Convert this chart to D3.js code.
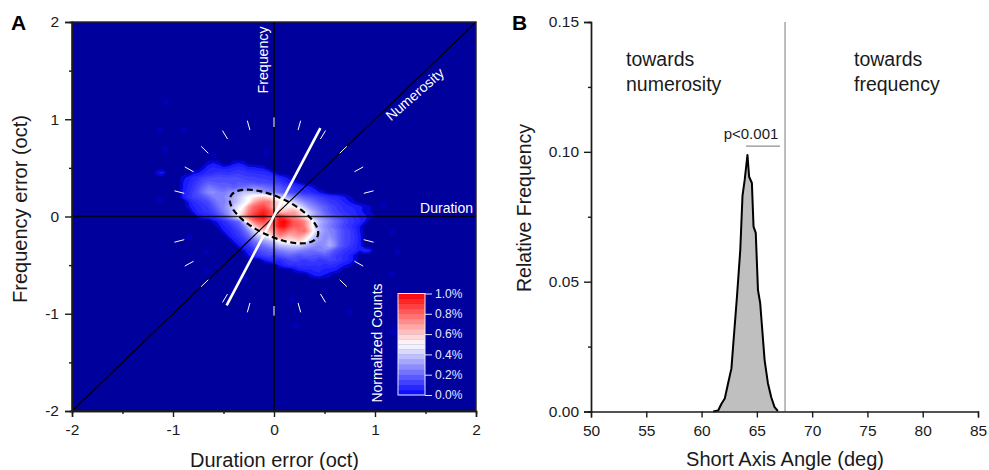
<!DOCTYPE html>
<html><head><meta charset="utf-8">
<script src="https://cdn.jsdelivr.net/npm/d3@7"></script>
<style>html,body{margin:0;padding:0;background:#fff}svg{display:block}text{font-family:"Liberation Sans",Arial,sans-serif}</style>
</head><body><svg id="c" width="989" height="470"></svg>
<script>
// Panel A: normalized counts (percent x 100). Columns start at duration error -1.2, rows at frequency error 0.55, step 0.05 oct
const heatX0=-1.2, heatY0=0.55, heatStep=0.05, heatCols=45;
const heatRows=[
[0,0,0,0,0,0,0,0,0,0,0,3,4,3,0,0,3,4,3],
[0,0,0,0,0,0,0,0,0,0,3,6,7,6,5,6,7,8,7,5,5,4,3],
[0,4,5,0,0,0,0,0,3,4,6,8,9,10,10,9,10,11,10,9,9,8,8,7,3],
[0,0,0,0,0,0,3,5,7,9,12,13,14,15,14,14,15,14,13,12,12,11,11,10,10,7,5,3],
[0,0,0,0,0,0,4,6,9,12,15,18,17,16,17,16,15,17,16,15,15,14,14,13,12,11,8,6,4,2],
[0,0,0,0,0,0,4,7,10,14,19,24,22,20,19,20,18,20,22,24,26,24,22,20,19,17,14,12,10,8,7,5,3],
[0,0,0,0,0,0,5,8,12,16,22,27,28,25,24,27,30,34,38,38,38,35,30,27,24,20,17,14,12,11,9,8,6,4,2],
[0,0,0,0,0,0,5,9,12,14,16,20,24,26,26,30,34,38,44,50,54,58,60,56,50,44,36,30,26,22,18,16,14,12,10,8,7,6,4,2],
[0,0,0,0,0,0,0,4,8,10,12,14,20,24,24,30,34,40,46,52,66,74,78,76,66,56,50,46,40,34,28,24,20,16,14,11,10,8,6,4,2],
[0,0,0,0,0,0,0,3,6,8,10,12,16,22,26,32,40,46,52,70,80,84,86,78,64,56,54,54,52,46,38,30,26,22,18,15,12,10,8,7,6,5,3,2],
[0,0,0,0,0,0,0,0,4,7,9,10,13,18,24,30,40,50,60,76,84,90,94,88,76,62,62,66,68,60,50,40,32,26,20,16,13,11,9,8,7,5,3,2],
[0,0,0,0,0,0,0,0,0,4,6,7,9,13,18,26,38,54,68,82,90,96,100,86,84,92,86,78,74,66,54,44,34,28,24,20,16,14,12,10,8,6,5,3,2],
[0,0,0,0,0,0,0,0,0,0,0,0,3,5,8,12,16,20,40,60,76,84,86,80,80,96,100,92,82,80,74,60,46,36,30,26,22,18,14,11,9,7,4],
[0,0,0,0,0,0,0,0,0,0,0,0,0,3,6,8,12,16,24,40,58,70,74,74,80,96,98,88,82,82,76,60,44,34,28,24,20,16,12,10,7,4],
[0,0,0,0,0,0,0,0,0,0,0,0,0,0,4,6,9,12,18,28,40,52,60,64,72,82,84,76,74,78,80,66,48,36,30,26,24,18,14,12,8,4],
[0,0,0,0,0,0,0,0,0,0,0,0,0,0,0,4,7,10,14,20,32,40,46,52,62,74,70,64,68,70,64,52,40,32,28,28,24,18,14,12,9,5],
[0,0,0,0,0,0,0,0,0,0,0,0,0,0,0,0,4,7,10,14,22,28,32,36,42,50,54,54,56,60,52,42,34,30,28,32,26,18,14,12,9,5],
[0,0,0,0,0,0,0,0,0,0,0,0,0,0,0,0,0,4,7,10,16,20,22,26,30,36,38,40,40,40,36,32,28,26,28,34,28,18,14,11,8,5],
[0,0,0,0,0,0,0,0,0,0,0,0,0,0,0,0,0,0,3,6,10,14,16,18,20,24,26,28,28,26,24,22,22,24,26,22,16,13,10,8,7,4,7,5],
[0,0,0,0,0,0,0,0,0,0,0,0,0,0,0,0,0,0,0,4,7,10,12,14,12,16,18,20,18,16,18,18,16,16,18,16,12,10,8,6,3],
[0,0,0,0,0,0,0,0,0,0,0,0,0,0,0,0,0,0,0,0,0,0,4,6,8,7,10,12,14,12,11,12,13,10,11,13,12,10,8,6,3],
[0,0,0,0,0,0,0,0,0,0,0,0,0,0,0,0,0,0,0,0,0,0,0,0,0,4,7,9,8,10,9,10,9,10,8,9,8,6,4,3],
[0,0,0,0,0,0,0,0,0,0,0,0,0,0,0,0,0,0,0,0,0,0,0,0,0,0,0,0,3,5,6,6,7,7,6,5,5,3],
[0,0,0,0,0,0,0,0,0,0,0,0,0,0,0,0,0,0,0,0,0,0,0,0,0,0,0,0,0,0,0,3,5,6,4,3],
[]
];
const straySpots=[[-1.07,1.18],[-1.13,0.89],[-0.89,0.89],[-1.08,0.69],[-0.08,0.65],[-0.6,0.63],[-1.13,0.165],[-0.84,-0.21],[-0.67,-0.36],[-0.67,-0.56],[-0.28,-0.64],[0.18,-0.86],[0.22,-1.12],[0.75,-0.99],[1.17,-0.165],[1.22,-0.36],[1.17,-0.59],[1.17,-1.19],[1.08,0.115],[0.93,0.26]];
const shortAxisEnds=[[-0.469,-0.914],[0.459,0.908]];
const ellipseParams={a:0.477,b:0.2,angle:-26};
const dialAngles=[15,30,45,60,75,90,105,120,135,150,165,195,210,225,240,255,270,285,300,315,330,345];
const dialRadii=[0.92,1.02];
const legendTicks=[0,0.2,0.4,0.6,0.8,1.0];
// Panel B: distribution of short axis angle
const angleDeg=[61.05,61.5,61.8,62.1,62.4,62.7,62.85,63.2,63.5,63.7,63.9,64.15,64.3,64.55,64.7,64.9,65.1,65.3,65.7,66.0,66.3,66.6,66.9];
const relFreq=[0,0.0004,0.003,0.005,0.0109,0.0166,0.025,0.0442,0.0622,0.083,0.0892,0.0988,0.0904,0.088,0.0712,0.0688,0.0468,0.0418,0.0198,0.0109,0.0055,0.0017,0.0002];
const ticksB_x=[50,55,60,65,70,75,80,85];
const ticksB_y=[0,0.05,0.10,0.15];
const minorB_y=[0.025,0.075,0.125];

const svg=d3.select("#c");
const ink="#1a1a1a";
const xA=d3.scaleLinear([-2,2],[72,476]), yA=d3.scaleLinear([-2,2],[411,22]);
const xB=d3.scaleLinear([50,85],[591,978]), yB=d3.scaleLinear([0,0.15],[411.5,22]);

const ramp=d3.scaleLinear([0,0.5,1],["#0000ff","#ffffff","#ff0000"]).clamp(true);
const heatColor=v=> v<0.05 ? d3.interpolateRgb("#0000a0","#0808ff")(Math.min(1,v/0.05)) : ramp(v);

const pa=svg.append("g");
pa.append("rect").attr("x",xA(-2)).attr("y",yA(2)).attr("width",xA(2)-xA(-2)).attr("height",yA(-2)-yA(2)).attr("fill","#00009c");
pa.selectAll("circle.s").data(straySpots).join("circle").attr("class","s")
  .attr("cx",d=>xA(d[0])).attr("cy",d=>yA(d[1])).attr("r",3).attr("fill","#0000b8");

const flat=heatRows.flatMap(r=>d3.range(heatCols).map(i=>(r[i]||0)/100));
const levels=d3.range(0.015,1,0.025);
const contours=d3.contours().size([heatCols,heatRows.length]).smooth(true).thresholds(levels)(flat);
const proj=d3.geoTransform({point(px,py){this.stream.point(xA(heatX0+(px-0.5)*heatStep),yA(heatY0-(py-0.5)*heatStep));}});
const gp=d3.geoPath(proj);
pa.append("g").selectAll("path").data(contours).join("path").attr("d",gp).attr("fill",d=>heatColor(d.value+0.0125));

const line=d3.line().x(d=>xA(d[0])).y(d=>yA(d[1]));
pa.append("path").attr("d",line([[-2,-2],[2,2]])).attr("stroke","#000").attr("stroke-width",1.2).attr("fill","none");
pa.append("path").attr("d",line([[-2,0],[2,0]])).attr("stroke","#000").attr("stroke-opacity",0.8).attr("stroke-width",1.5).attr("fill","none");
pa.append("path").attr("d",line([[0,-2],[0,2]])).attr("stroke","#000").attr("stroke-width",1.5).attr("fill","none");
pa.append("g").selectAll("path").data(dialAngles).join("path").attr("fill","none").attr("stroke","#fff").attr("stroke-width",1)
 .attr("d",a=>{const r=a*Math.PI/180;return line(dialRadii.map(k=>[k*Math.cos(r),k*Math.sin(r)]));});
pa.append("path").attr("d",line(shortAxisEnds)).attr("stroke","#fff").attr("stroke-width",2.6).attr("fill","none");
const th=ellipseParams.angle*Math.PI/180;
pa.append("path").attr("fill","none").attr("stroke","#000").attr("stroke-width",2.2).attr("stroke-dasharray","6 3.6")
 .attr("d",line(d3.range(0,361,3).map(t=>{const u=t*Math.PI/180,p=ellipseParams.a*Math.cos(u),q=ellipseParams.b*Math.sin(u);return [p*Math.cos(th)-q*Math.sin(th),p*Math.sin(th)+q*Math.cos(th)];})));
pa.append("rect").attr("x",xA(-2)).attr("y",yA(2)).attr("width",xA(2)-xA(-2)).attr("height",yA(-2)-yA(2)).attr("fill","none").attr("stroke","#222").attr("stroke-width",1.4);

function styleAxis(g,size){g.selectAll(".domain").attr("stroke",ink).attr("stroke-width",1.4);
 g.selectAll("line").attr("stroke",ink).attr("stroke-width",1.4);
 g.selectAll("text").attr("font-size",size).attr("fill",ink).attr("font-family",'"Liberation Sans",Arial,sans-serif');}
const fmtA=d=>String(d).replace("\u2212","-");
let g=svg.append("g").attr("transform",`translate(0,${yA(-2)})`).call(d3.axisBottom(xA).tickValues([-2,-1,0,1,2]).tickFormat(fmtA).tickSize(6).tickPadding(7));styleAxis(g,15.5);
g=svg.append("g").attr("transform",`translate(0,${yA(-2)})`).call(d3.axisBottom(xA).tickValues([-1.5,-0.5,0.5,1.5]).tickFormat("").tickSize(3));styleAxis(g,15);
g=svg.append("g").attr("transform",`translate(${xA(-2)},0)`).call(d3.axisLeft(yA).tickValues([-2,-1,0,1,2]).tickFormat(fmtA).tickSize(7).tickPadding(6));styleAxis(g,15.5);
g=svg.append("g").attr("transform",`translate(${xA(-2)},0)`).call(d3.axisLeft(yA).tickValues([-1.5,-0.5,0.5,1.5]).tickFormat("").tickSize(3));styleAxis(g,15);

function label(x,y,t,o={}){const e=svg.append("text").attr("x",x).attr("y",y).text(t).attr("font-size",o.size||18).attr("fill",o.fill||ink).attr("text-anchor",o.anchor||"middle");
 if(o.weight)e.attr("font-weight",o.weight);if(o.rot!=null)e.attr("transform",`rotate(${o.rot} ${x} ${y})`);return e;}
label(274.5,467,"Duration error (oct)",{size:20});
label(27,209,"Frequency error (oct)",{size:20,rot:-90});
label(11,30,"A",{size:21,weight:"bold",anchor:"start",fill:"#000"});
label(512,30,"B",{size:21,weight:"bold",anchor:"start",fill:"#000"});
label(268,60,"Frequency",{size:14.2,rot:-90,fill:"#fff"});
label(418,98,"Numerosity",{size:14.2,rot:-41,fill:"#fff"});
label(473,213,"Duration",{size:14,anchor:"end",fill:"#fff"});

const barY=d3.scaleLinear([0,1],[395,293.5]);
const bands=d3.range(0,1,0.05);
svg.append("g").selectAll("rect").data(bands).join("rect").attr("x",398).attr("width",27)
 .attr("y",d=>barY(d+0.05)).attr("height",d=>barY(d)-barY(d+0.05)+0.3).attr("fill",d=>ramp(d+0.025));
svg.append("rect").attr("x",398).attr("y",barY(1)).attr("width",27).attr("height",barY(0)-barY(1)).attr("fill","none").attr("stroke","#e8e8ff").attr("stroke-width",1);
const lg=svg.append("g").attr("transform","translate(425,0)").call(d3.axisRight(barY).tickValues(legendTicks).tickFormat(d=>d.toFixed(1)+"%").tickSize(7).tickPadding(3));
lg.select(".domain").remove();lg.selectAll("line").attr("stroke","#e8e8ff");lg.selectAll("text").attr("fill","#e8e8ff").attr("font-size",12).attr("font-family",'"Liberation Sans",Arial,sans-serif');
label(382,343,"Normalized Counts",{size:14,rot:-90,fill:"#fff"});

const area=d3.area().x((d,i)=>xB(angleDeg[i])).y0(yB(0)).y1(d=>yB(d));
svg.append("path").attr("d",area(relFreq)).attr("fill","#bfbfbf");
svg.append("path").attr("d",d3.line().x((d,i)=>xB(angleDeg[i])).y(d=>yB(d))(relFreq)).attr("fill","none").attr("stroke","#000").attr("stroke-width",2).attr("stroke-linejoin","round");
svg.append("path").attr("d",d3.line()([[xB(67.55),yB(0)],[xB(67.55),yB(0.15)]])).attr("stroke","#8f8f8f").attr("stroke-width",1.2);
svg.append("path").attr("d",d3.line()([[xB(64.02),yB(0.1022)],[xB(67.09),yB(0.1022)]])).attr("stroke","#8f8f8f").attr("stroke-width",1.2);
g=svg.append("g").attr("transform",`translate(0,${yB(0)})`).call(d3.axisBottom(xB).tickValues(ticksB_x).tickFormat(d3.format("d")).tickSize(6).tickPadding(7));styleAxis(g,15.5);
g=svg.append("g").attr("transform",`translate(${xB(50)},0)`).call(d3.axisLeft(yB).tickValues(ticksB_y).tickFormat(d3.format(".2f")).tickSize(7).tickPadding(5));styleAxis(g,15.5);
g=svg.append("g").attr("transform",`translate(${xB(50)},0)`).call(d3.axisLeft(yB).tickValues(minorB_y).tickFormat("").tickSize(3));styleAxis(g,15);
label(785,466,"Short Axis Angle (deg)",{size:20});
label(531,208,"Relative Frequency",{size:19.5,rot:-90});
label(626,66,"towards",{size:19.5,anchor:"start"});
label(626,91,"numerosity",{size:19.5,anchor:"start"});
label(854,66,"towards",{size:19.5,anchor:"start"});
label(854,91,"frequency",{size:19.5,anchor:"start"});
label(751,139,"p<0.001",{size:15});
</script></body></html>
